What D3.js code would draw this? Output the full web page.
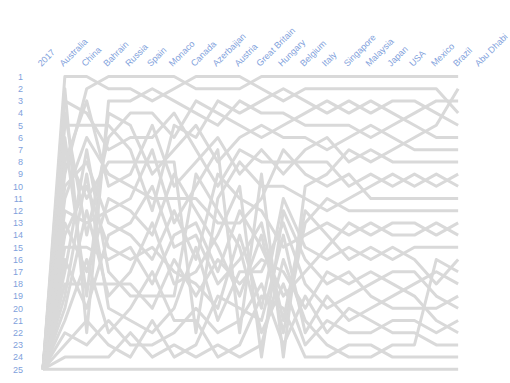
<!DOCTYPE html>
<html>
<head>
<meta charset="utf-8">
<script src="https://d3js.org/d3.v7.min.js"></script>
<style>
  body { margin: 0; background: #fff; }
  .axis text { fill: #7f9fdc; font-family: "Liberation Sans", Arial, sans-serif; font-size: 9px; }
  .axis .domain, .axis line { display: none; }
  .line { fill: none; stroke: #d9d9d9; stroke-width: 3; stroke-linejoin: round; }
</style>
</head>
<body>
<svg></svg>
<script>
// columns (first one is the 2017 start, every line starts at 25)
var races = ['2017', 'Australia', 'China', 'Bahrain', 'Russia', 'Spain', 'Monaco', 'Canada',
  'Azerbaijan', 'Austria', 'Great Britain', 'Hungary', 'Belgium', 'Italy', 'Singapore',
  'Malaysia', 'Japan', 'USA', 'Mexico', 'Brazil', 'Abu Dhabi'];
var ranks = d3.range(1, 26);

// positions Australia .. Brazil, one array per line
var s01 = [1, 1, 2, 2, 3, 2, 1, 1, 1, 2, 3, 2, 2, 2, 2, 2, 2, 2, 4];
var s02 = [9, 2, 1, 1, 1, 1, 2, 2, 2, 1, 1, 1, 1, 1, 1, 1, 1, 1, 1];
var s03 = [2, 22, 3, 3, 2, 3, 4, 5, 3, 4, 4, 5, 5, 5, 6, 5, 4, 3, 3];
var s04 = [3, 4, 7, 6, 6, 4, 7, 10, 7, 8, 8, 8, 8, 10, 9, 10, 9, 10, 9];
var s05 = [5, 5, 5, 7, 12, 5, 6, 3, 4, 3, 2, 3, 4, 3, 4, 3, 3, 4, 5];
var s06 = [11, 6, 9, 10, 11, 11, 11, 13, 13, 11, 7, 9, 10, 9, 11, 11, 11, 11, 11];
var s07 = [4, 14, 6, 4, 4, 6, 3, 4, 5, 6, 5, 4, 3, 4, 3, 4, 5, 6, 6];
var s08 = [7, 11, 8, 8, 8, 8, 22, 11, 8, 10, 10, 11, 12, 11, 10, 9, 10, 9, 10];
var s09 = [6, 19, 4, 5, 9, 7, 5, 8, 6, 5, 6, 6, 7, 6, 5, 6, 7, 7, 7];
var s10 = [13, 17, 11, 12, 14, 9, 12, 15, 19, 14, 22, 13, 11, 12, 12, 12, 12, 12, 12];
var s11 = [8, 3, 10, 9, 5, 10, 8, 6, 9, 7, 9, 7, 6, 8, 7, 8, 8, 8, 8];
var s12 = [10, 8, 13, 14, 16, 12, 16, 9, 11, 12, 15, 14, 13, 14, 13, 14, 14, 13, 14];
var s13 = [12, 13, 12, 11, 7, 13, 10, 7, 22, 9, 24, 10, 9, 7, 8, 7, 6, 5, 2];
var s14 = [15, 15, 16, 15, 18, 14, 13, 17, 12, 15, 19, 17, 15, 13, 14, 13, 13, 14, 13];
var s15 = [14, 10, 15, 16, 15, 17, 18, 20, 14, 20, 11, 15, 16, 15, 16, 15, 16, 18, 16];
var s16 = [17, 7, 17, 19, 19, 19, 9, 12, 15, 22, 18, 23, 21, 22, 22, 21, 21, 22, 21];
var s17 = [16, 20, 14, 13, 10, 15, 14, 18, 16, 13, 21, 12, 14, 16, 15, 16, 15, 15, 15];
var s18 = [19, 9, 20, 21, 22, 20, 15, 21, 17, 17, 13, 18, 20, 19, 18, 17, 17, 19, 20];
var s19 = [18, 18, 18, 18, 20, 16, 19, 16, 18, 16, 17, 20, 17, 18, 17, 18, 19, 21, 22];
var s20 = [20, 12, 19, 17, 13, 18, 17, 14, 10, 24, 12, 16, 18, 17, 19, 20, 20, 20, 19];
var s21 = [22, 23, 21, 23, 23, 22, 20, 22, 21, 18, 23, 19, 22, 20, 21, 22, 22, 23, 23];
var s22 = [21, 16, 22, 20, 17, 21, 21, 24, 23, 19, 20, 24, 24, 23, 23, 24, 24, 24, 24];
var s23 = [23, 21, 23, 24, 21, 24, 23, 19, 20, 21, 14, 22, 19, 21, 20, 19, 18, 17, 18];
var s24 = [24, 24, 24, 22, 24, 23, 24, 23, 24, 23, 16, 21, 23, 24, 24, 23, 23, 16, 17];
var s25 = [25, 25, 25, 25, 25, 25, 25, 25, 25, 25, 25, 25, 25, 25, 25, 25, 25, 25, 25];

var series = [s01, s02, s03, s04, s05, s06, s07, s08, s09, s10, s11, s12, s13,
  s14, s15, s16, s17, s18, s19, s20, s21, s22, s23, s24, s25];

// size
var width = 510, height = 383;

var x = d3.scalePoint().domain(races).range([43, 480]);
var y = d3.scaleLinear().domain([1, 25]).range([76.5, 369.3]);

var svg = d3.select('svg')
  .attr('width', width)
  .attr('height', height);

// y axis
svg.append('g')
  .attr('class', 'y axis')
  .attr('transform', 'translate(23,0)')
  .call(d3.axisLeft(y).tickValues(ranks).tickSize(0).tickPadding(0));

// x axis, rotated labels
svg.append('g')
  .attr('class', 'x axis')
  .attr('transform', 'translate(-2,67)')
  .call(d3.axisTop(x).tickSize(0).tickPadding(0))
  .selectAll('text')
    .attr('y', 0)
    .attr('dy', 0)
    .attr('transform', 'rotate(-45)')
    .style('text-anchor', 'start');

// lines
var line = d3.line()
  .x(function (d) { return x(d.race); })
  .y(function (d) { return y(d.pos); });

svg.selectAll('.line')
  .data(series)
  .enter().append('path')
    .attr('class', 'line')
    .attr('d', function (s) {
      var pts = [{race: races[0], pos: 25}];
      s.forEach(function (v, i) { pts.push({race: races[i + 1], pos: v}); });
      return line(pts);
    });
</script>
</body>
</html>
